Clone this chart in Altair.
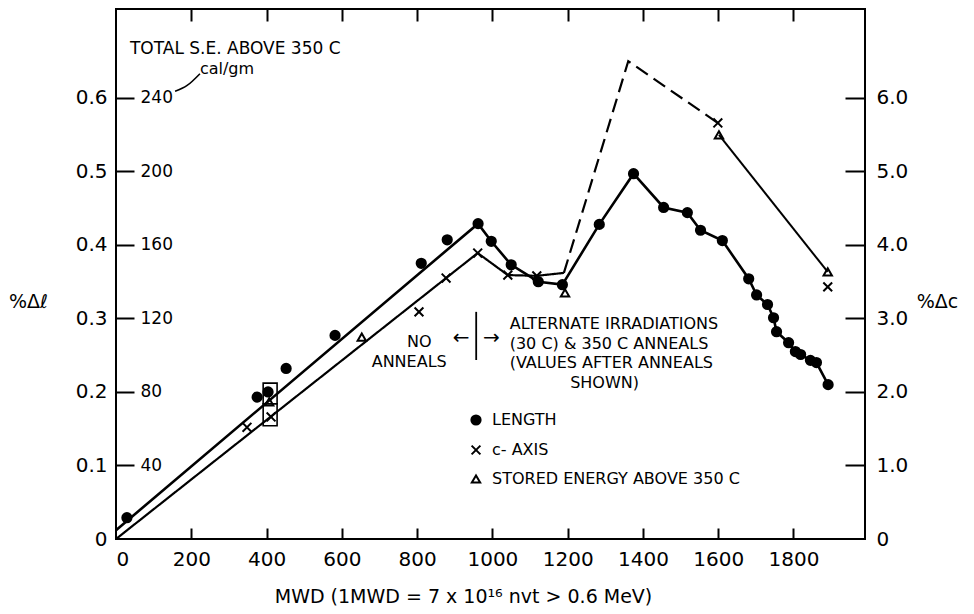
import altair as alt
import pandas as pd

# ---------------- data ----------------
# Length change (% delta l), filled circles
len_mwd = [29, 375, 404, 452, 582, 811, 880, 962, 997, 1050, 1122, 1186, 1284, 1375,
           1455, 1518, 1553, 1611, 1681, 1702, 1731, 1747, 1755, 1787, 1805, 1819,
           1845, 1861, 1892]
len_pct = [0.029, 0.193, 0.200, 0.232, 0.277, 0.375, 0.407, 0.429, 0.405, 0.373,
           0.350, 0.346, 0.428, 0.497, 0.451, 0.444, 0.420, 0.406, 0.354, 0.332,
           0.319, 0.301, 0.282, 0.267, 0.255, 0.251, 0.243, 0.240, 0.210]
# straight fitted line through the un-annealed length data
len_fit_mwd = [0, 962]
len_fit_pct = [0.012, 0.429]

# c-axis change (% delta c), x markers
c_mwd = [348, 412, 805, 877, 961, 1041, 1118, 1599, 1891]
c_pct = [1.52, 1.66, 3.09, 3.55, 3.89, 3.59, 3.58, 5.66, 3.43]
c_solid_mwd = [0, 961, 1041, 1118, 1190]
c_solid_pct = [0.0, 3.89, 3.59, 3.58, 3.62]
c_dash_mwd = [1190, 1361, 1599]
c_dash_pct = [3.62, 6.50, 5.66]

# stored energy above 350 C (cal/gm), triangles
se_mwd = [407, 653, 1193, 1602, 1891]
se_cal = [74.6, 109.9, 133.9, 219.9, 145.3]
se_line_mwd = [1602, 1891]
se_line_cal = [219.9, 145.3]

# boxes drawn round the points near 400 MWD
box_mwd0 = [391, 391]
box_mwd1 = [428, 428]
box_lo = [0.154, 0.184]
box_hi = [0.184, 0.212]

# axis tick values
x_ticks = [0, 200, 400, 600, 800, 1000, 1200, 1400, 1600, 1800]
x_inner = [200, 400, 600, 800, 1000, 1200, 1400, 1600, 1800]
l_ticks = [0, 0.1, 0.2, 0.3, 0.4, 0.5, 0.6]
l_inner = [0.1, 0.2, 0.3, 0.4, 0.5, 0.6]
c_ticks = [0, 1, 2, 3, 4, 5, 6]
se_ticks = [40, 80, 120, 160, 200, 240]

series_names = ["LENGTH", "c- AXIS", "STORED ENERGY  ABOVE 350 C"]

# annotations (text, MWD, %dl, font size)
notes_left = [
    ("TOTAL S.E. ABOVE 350 C", 37, 0.660, 17),
    ("cal/gm", 223, 0.632, 16),
    ("ALTERNATE IRRADIATIONS", 1046, 0.285, 16),
    ("(30 C) & 350 C ANNEALS", 1046, 0.259, 16),
    ("(VALUES AFTER ANNEALS", 1046, 0.233, 16),
]
notes_center = [
    ("NO", 806, 0.261, 16),
    ("ANNEALS", 779, 0.234, 16),
    ("SHOWN)", 1298, 0.206, 16),
    ("\u2190", 917, 0.265, 20),
    ("\u2192", 997, 0.265, 20),
]
divider_mwd = [957]
divider_lo = [0.2435]
divider_hi = [0.309]
curve_mwd = [157, 189, 223]
curve_pct = [0.609, 0.617, 0.633]

# ---------------- chart ----------------
W, H = 749, 530
XD = [0, 1990]
LD = [0, 0.721]
CD = [0, 7.21]
SD = [0, 288.4]
FONT = "DejaVu Sans"


def X(field="mwd", axis=None):
    return alt.X(f"{field}:Q", scale=alt.Scale(domain=XD, nice=False, zero=False), axis=axis)


def Y(field, dom, axis=None):
    return alt.Y(f"{field}:Q", scale=alt.Scale(domain=dom, nice=False, zero=False), axis=axis)


fmt = "datum.value == 0 ? '0' : format(datum.value, '.1f')"

# length line
len_line = pd.DataFrame({
    "mwd": len_fit_mwd + len_mwd[8:],
    "pct": len_fit_pct + len_pct[8:],
})
len_line["o"] = range(len(len_line))

layer_len = alt.Chart(len_line).mark_line(color="black", strokeWidth=2.6).encode(
    x=X("mwd", alt.Axis(orient="bottom", values=x_ticks, tickSize=0, labelPadding=10,
                        labelFontSize=20, format="d",
                        title="MWD  (1MWD = 7 x 10\u00b9\u2076  nvt > 0.6  MeV)",
                        titleFontSize=19, titleFontWeight="normal", titleX=347, titleY=63,
                        titleAlign="center", titleBaseline="alphabetic")),
    y=Y("pct", LD, alt.Axis(orient="left", values=l_ticks, tickSize=0, labelPadding=9,
                            labelFontSize=20, labelExpr=fmt, title="%\u0394\u2113",
                            titleAngle=0, titleFontSize=19, titleFontWeight="normal",
                            titleX=-88, titleY=292, titleAlign="center",
                            titleBaseline="middle")),
    order="o:Q",
)

# c-axis lines (solid + dashed)
c_lines = pd.DataFrame({
    "mwd": c_solid_mwd + c_dash_mwd,
    "pct": c_solid_pct + c_dash_pct,
    "seg": ["solid"] * len(c_solid_mwd) + ["dash"] * len(c_dash_mwd),
})
c_lines["o"] = range(len(c_lines))

layer_c = alt.Chart(c_lines).mark_line(color="black", strokeWidth=2.2).encode(
    x=X("mwd", alt.Axis(orient="bottom", offset=-H, values=x_inner, tickSize=12,
                        labels=False, title=None)),
    y=Y("pct", CD, alt.Axis(orient="right", values=c_ticks, tickSize=0, labelPadding=11,
                            labelFontSize=20, labelExpr=fmt, title="%\u0394c",
                            titleAngle=0, titleFontSize=19, titleFontWeight="normal",
                            titleX=72, titleY=292, titleAlign="center",
                            titleBaseline="middle")),
    detail="seg:N",
    strokeDash=alt.StrokeDash("seg:N", scale=alt.Scale(domain=["solid", "dash"],
                                                       range=[[1, 0], [14, 7]]), legend=None),
    order="o:Q",
)

# stored-energy line and its inner scale
se_line = pd.DataFrame({"mwd": se_line_mwd, "cal": se_line_cal})
layer_se = alt.Chart(se_line).mark_line(color="black", strokeWidth=2).encode(
    x=X("mwd", alt.Axis(orient="top", offset=-H, values=x_inner, tickSize=11,
                        labels=False, title=None)),
    y=Y("cal", SD, alt.Axis(orient="right", offset=-W, values=se_ticks, tickSize=18,
                            labelPadding=6, labelFontSize=17, format="d", title=None)),
)

# all markers (in %dl units) with legend
pts = pd.concat([
    pd.DataFrame({"mwd": len_mwd, "y": len_pct, "series": series_names[0]}),
    pd.DataFrame({"mwd": c_mwd, "y": [v / 10 for v in c_pct], "series": series_names[1]}),
    pd.DataFrame({"mwd": se_mwd, "y": [v / 400 for v in se_cal], "series": series_names[2]}),
])
legend = alt.Legend(orient="none", legendX=352, legendY=403, title=None,
                    labelFontSize=16, labelFont=FONT, labelColor="black", labelLimit=500,
                    symbolStrokeWidth=2, symbolStrokeColor="black",
                    rowPadding=12, labelOffset=8, padding=0)
layer_pts = alt.Chart(pts).mark_point(strokeWidth=2, opacity=1).encode(
    x=X("mwd"),
    y=Y("y", LD, alt.Axis(orient="left", offset=-W, values=l_inner, tickSize=20,
                          labels=False, title=None)),
    shape=alt.Shape("series:N", scale=alt.Scale(domain=series_names,
                    range=["circle", "M-1,-1L1,1M-1,1L1,-1", "triangle-up"]), legend=legend),
    fill=alt.Fill("series:N", scale=alt.Scale(domain=series_names,
                  range=["black", "transparent", "transparent"]), legend=legend),
    stroke=alt.Stroke("series:N", scale=alt.Scale(domain=series_names,
                      range=["black", "black", "black"]), legend=legend),
    size=alt.Size("series:N", scale=alt.Scale(domain=series_names,
                  range=[85, 70, 175]), legend=legend),
)

boxes = pd.DataFrame({"x0": box_mwd0, "x1": box_mwd1, "lo": box_lo, "hi": box_hi})
layer_box = alt.Chart(boxes).mark_rect(fill="transparent", stroke="black", strokeWidth=1.6).encode(
    x=X("x0"), x2="x1:Q", y=Y("lo", LD), y2="hi:Q",
)

nl = pd.DataFrame(notes_left, columns=["t", "mwd", "pct", "fs"])
layer_tl = alt.Chart(nl).mark_text(align="left", baseline="alphabetic", font=FONT,
                                   color="black").encode(
    x=X("mwd"), y=Y("pct", LD), text="t:N", size=alt.Size("fs:Q", scale=None),
)
nc = pd.DataFrame(notes_center, columns=["t", "mwd", "pct", "fs"])
layer_tc = alt.Chart(nc).mark_text(align="center", baseline="alphabetic", font=FONT,
                                   color="black").encode(
    x=X("mwd"), y=Y("pct", LD), text="t:N", size=alt.Size("fs:Q", scale=None),
)

div = pd.DataFrame({"mwd": divider_mwd, "lo": divider_lo, "hi": divider_hi})
layer_div = alt.Chart(div).mark_rule(color="black", strokeWidth=1.8).encode(
    x=X("mwd"), y=Y("lo", LD), y2="hi:Q",
)

cv = pd.DataFrame({"mwd": curve_mwd, "pct": curve_pct})
layer_cv = alt.Chart(cv).mark_line(color="black", strokeWidth=1.6, interpolate="monotone").encode(
    x=X("mwd"), y=Y("pct", LD),
)

chart = alt.layer(
    layer_len, layer_c, layer_se, layer_pts, layer_box, layer_tl, layer_tc, layer_div, layer_cv
).resolve_scale(
    x="independent", y="independent"
).properties(
    width=W, height=H,
    autosize=alt.AutoSizeParams(type="none"),
    padding={"left": 108, "top": 1, "right": 100, "bottom": 67},
).configure_view(
    stroke="black", strokeWidth=2
).configure_axis(
    grid=False, domain=False, tickColor="black", tickWidth=2,
    labelColor="black", titleColor="black", labelFont=FONT, titleFont=FONT,
)

chart.save("out.html", embed_options={"renderer": "svg", "actions": False})
